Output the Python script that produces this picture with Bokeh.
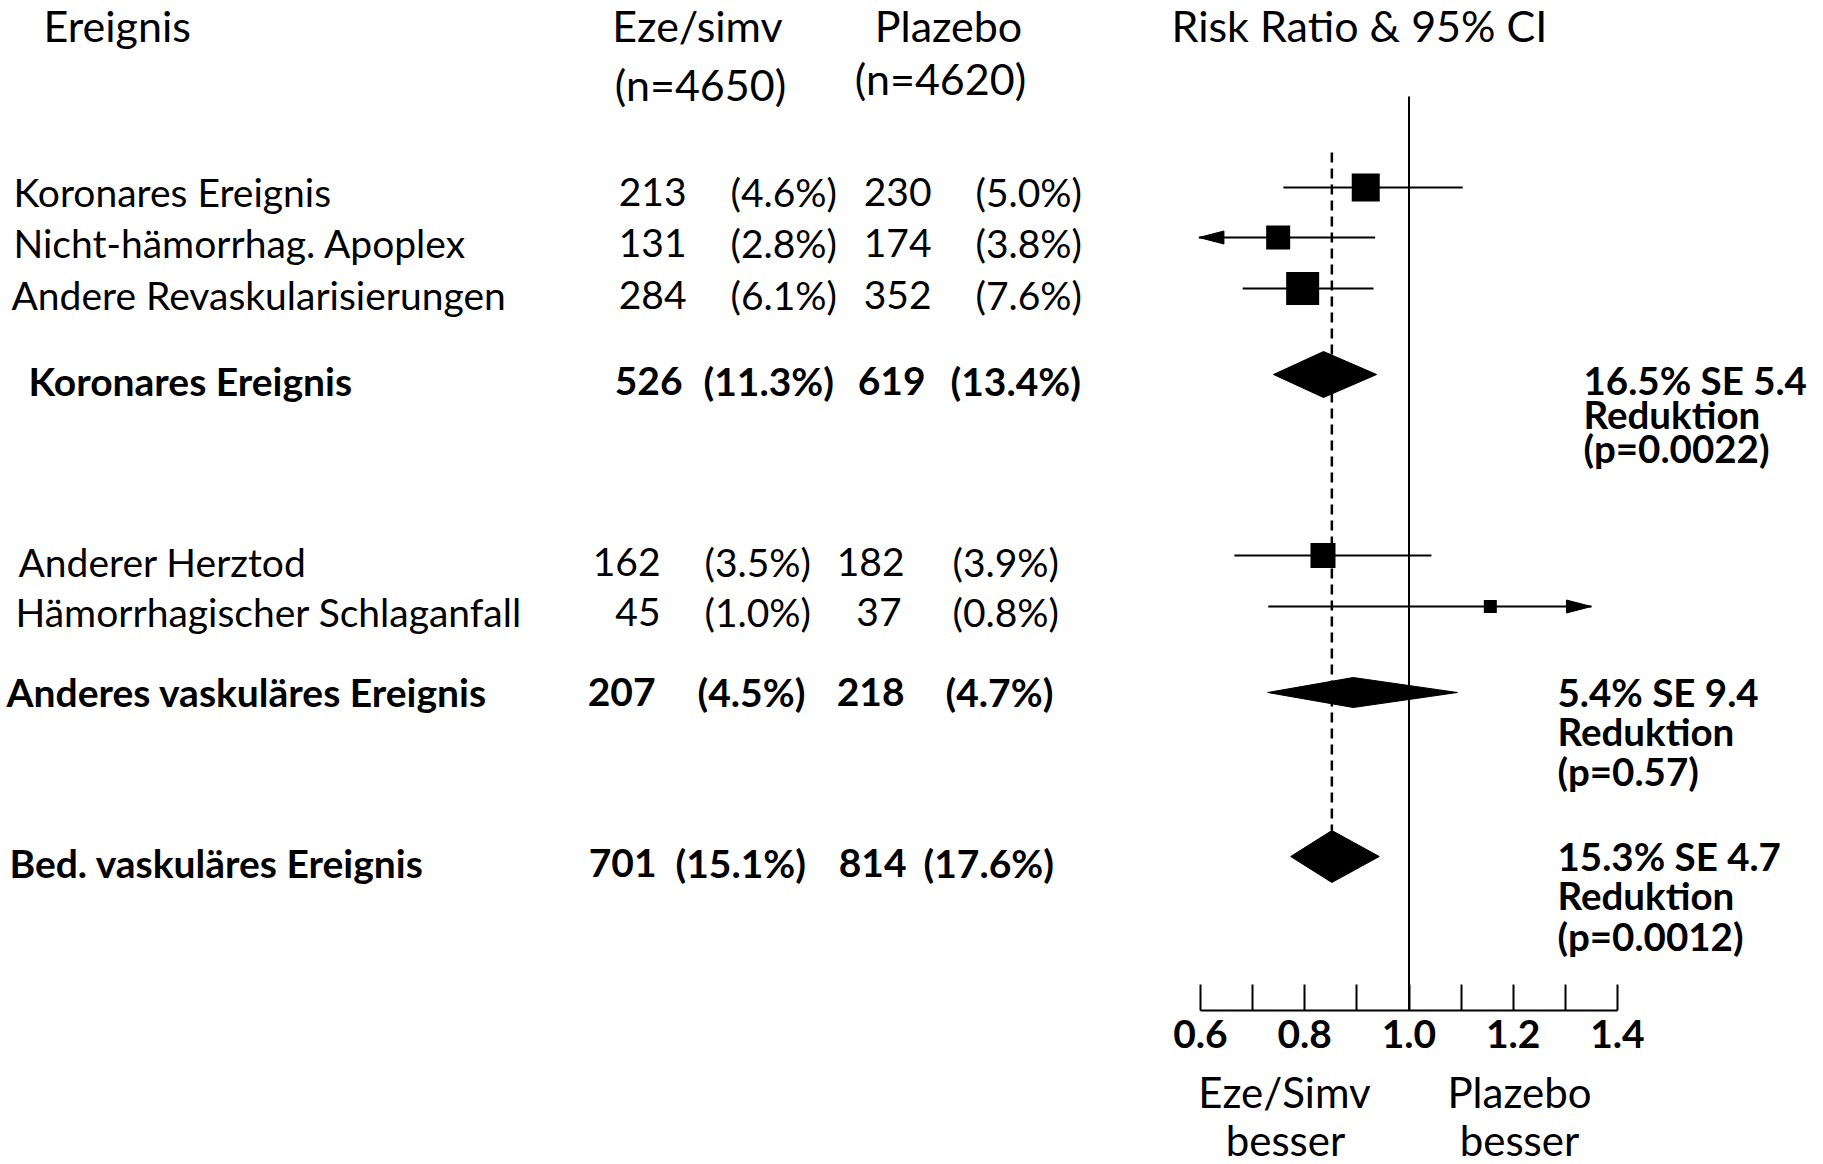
from bokeh.plotting import figure
from bokeh.layouts import column
from bokeh.models import Range1d, LinearAxis, FixedTicker, ColumnDataSource, PrintfTickFormatter
from bokeh.core.properties import value
from bokeh.embed import file_html
from bokeh.resources import INLINE

# ---------------- data ----------------
events = ["Koronares Ereignis", "Nicht-hämorrhag. Apoplex", "Andere Revaskularisierungen",
          "Koronares Ereignis", "Anderer Herztod", "Hämorrhagischer Schlaganfall",
          "Anderes vaskuläres Ereignis", "Bed. vaskuläres Ereignis"]
is_summary = [False, False, False, True, False, False, True, True]
eze_n = [213, 131, 284, 526, 162, 45, 207, 701]
eze_pct = ["4.6", "2.8", "6.1", "11.3", "3.5", "1.0", "4.5", "15.1"]
pla_n = [230, 174, 352, 619, 182, 37, 218, 814]
pla_pct = ["5.0", "3.8", "7.6", "13.4", "3.9", "0.8", "4.7", "17.6"]
rr = [0.917, 0.749, 0.796, 0.836, 0.835, 1.156, 0.893, 0.852]
ci_lo = [0.759, 0.597, 0.681, 0.740, 0.665, 0.730, 0.729, 0.773]
ci_hi = [1.103, 0.935, 0.932, 0.938, 1.043, 1.350, 1.093, 0.943]
arrow_side = ["", "left", "", "", "", "right", "", ""]
summary_reduction = ["16.5%", "5.4%", "15.3%"]
summary_se = ["5.4", "9.4", "4.7"]
summary_p = ["0.0022", "0.57", "0.0012"]
major_ticks = [0.6, 0.8, 1.0, 1.2, 1.4]
minor_ticks = [0.7, 0.9, 1.1, 1.3]
null_rr = 1.0
overall_rr = rr[7]

# ---------------- layout (picture pixels) ----------------
W, H = 1815, 1164
FRAME_BOTTOM = 1010
AXIS_BORDER = 56
row_mark_y = [187, 237, 288, 374, 555, 606, 692, 856]
row_text_y = [191, 242, 294, 380, 561, 611, 691, 862]
mark_size = [28, 24, 33, 46, 25, 13, 30, 52]   # square side / diamond height
lab_x = [13, 13, 11, 28, 18, 15, 6, 9]
eze_n_right = [686, 686, 686, 682, 660, 660, 655, 656]
eze_pct_left = [730, 730, 730, 703, 704, 704, 697, 675]
pla_n_right = [931, 931, 931, 925, 904, 901, 904, 906]
pla_pct_left = [975, 975, 975, 950, 952, 952, 945, 923]
stat_x = [1583, 1557, 1557]
stat_y = [[379, 413, 447], [691, 730, 770], [855, 894, 935]]
FONT = "Lato"

px_per_rr = (1617 - 1200) / 0.8
rr_start = 0.6 - 1200 / px_per_rr
rr_end = rr_start + W / px_per_rr

p = figure(width=W, height=FRAME_BOTTOM + AXIS_BORDER, x_range=Range1d(0, W),
           y_range=Range1d(FRAME_BOTTOM, 0),
           x_axis_type=None, y_axis_type=None, toolbar_location=None, output_backend="svg",
           min_border_left=0, min_border_right=0, min_border_top=0,
           min_border_bottom=AXIS_BORDER, outline_line_color=None,
           background_fill_color="white", border_fill_color="white")
p.extra_x_ranges = {"rr": Range1d(rr_start, rr_end)}

# ---- headers ----
hdr = ColumnDataSource(dict(x=[43, 697, 700, 948, 940, 1171], y=[25, 25, 84, 25, 78, 25],
                            t=["Ereignis", "Eze/simv", "(n=4650)", "Plazebo", "(n=4620)", "Risk Ratio & 95% CI"],
                            a=["left", "center", "center", "center", "center", "left"]))
p.text(x="x", y="y", text="t", text_align="a", source=hdr, text_baseline="middle",
       text_font=value(FONT), text_font_size=value("43px"), text_color="black")

# ---- table ----
styles = ["bold" if s else "normal" for s in is_summary]
tab = ColumnDataSource(dict(
    lx=lab_x, y=row_text_y, label=events, st=styles,
    enx=eze_n_right, en=[str(v) for v in eze_n],
    epx=eze_pct_left, ep=["(%s%%)" % v for v in eze_pct],
    pnx=pla_n_right, pn=[str(v) for v in pla_n],
    ppx=pla_pct_left, pp=["(%s%%)" % v for v in pla_pct]))
common = dict(source=tab, text_baseline="middle", text_font=value(FONT),
              text_font_size=value("39px"), text_color="black", text_font_style="st")
p.text(x="lx", y="y", text="label", text_align="left", **common)
p.text(x="enx", y="y", text="en", text_align="right", **common)
p.text(x="epx", y="y", text="ep", text_align="left", **common)
p.text(x="pnx", y="y", text="pn", text_align="right", **common)
p.text(x="ppx", y="y", text="pp", text_align="left", **common)

# ---- forest plot ----
p.segment(x0=[null_rr], y0=[96], x1=[null_rr], y1=[FRAME_BOTTOM], x_range_name="rr",
          line_color="black", line_width=2)
p.segment(x0=[overall_rr], y0=[152], x1=[overall_rr], y1=[row_mark_y[7] - mark_size[7] / 2],
          x_range_name="rr", line_color="black", line_width=2.5, line_dash="10 6")

sq = [i for i in range(len(events)) if not is_summary[i]]
ci = ColumnDataSource(dict(lo=[ci_lo[i] for i in sq], hi=[ci_hi[i] for i in sq],
                           y=[row_mark_y[i] for i in sq], rr=[rr[i] for i in sq],
                           s=[mark_size[i] for i in sq]))
p.segment(x0="lo", y0="y", x1="hi", y1="y", source=ci, x_range_name="rr",
          line_color="black", line_width=1.8)
p.scatter(x="rr", y="y", size="s", marker="square", source=ci, x_range_name="rr",
          fill_color="black", line_color=None)

head_len = 25 / px_per_rr
head_half = 6.5
axs, ays = [], []
for i, side in enumerate(arrow_side):
    if side == "left":
        tip = ci_lo[i]
        axs.append([tip, tip + head_len, tip + head_len])
    elif side == "right":
        tip = ci_hi[i]
        axs.append([tip, tip - head_len, tip - head_len])
    else:
        continue
    y = row_mark_y[i]
    ays.append([y, y - head_half, y + head_half])
p.patches(xs=axs, ys=ays, x_range_name="rr", fill_color="black", line_color="black", line_width=1)

dm = [i for i in range(len(events)) if is_summary[i]]
dxs = [[ci_lo[i], rr[i], ci_hi[i], rr[i]] for i in dm]
dys = [[row_mark_y[i], row_mark_y[i] - mark_size[i] / 2, row_mark_y[i], row_mark_y[i] + mark_size[i] / 2] for i in dm]
p.patches(xs=dxs, ys=dys, x_range_name="rr", fill_color="black", line_color="black", line_width=1)

# ---- summary statistics ----
sx, sy, st = [], [], []
for k in range(len(summary_reduction)):
    lines = ["%s SE %s" % (summary_reduction[k], summary_se[k]), "Reduktion", "(p=%s)" % summary_p[k]]
    for j, t in enumerate(lines):
        sx.append(stat_x[k]); sy.append(stat_y[k][j]); st.append(t)
p.text(x=sx, y=sy, text=st, text_align="left", text_baseline="middle", text_font=value(FONT),
       text_font_size=value("38.5px"), text_font_style="bold", text_color="black")

# ---- axis ----
ax = LinearAxis(x_range_name="rr", ticker=FixedTicker(ticks=major_ticks, minor_ticks=minor_ticks),
                formatter=PrintfTickFormatter(format="%.1f"), bounds=(0.6, 1.4))
ax.axis_line_color = "black"
ax.axis_line_width = 2
ax.major_tick_in = 26
ax.major_tick_out = 0
ax.minor_tick_in = 26
ax.minor_tick_out = 0
ax.major_tick_line_width = 2
ax.minor_tick_line_width = 2
ax.major_tick_line_color = "black"
ax.minor_tick_line_color = "black"
ax.major_label_text_font = FONT
ax.major_label_text_font_style = "bold"
ax.major_label_text_font_size = "39px"
ax.major_label_text_color = "black"
ax.major_label_standoff = 9
p.add_layout(ax, "below")

# ---- direction captions under the axis ----
TOP2 = FRAME_BOTTOM + AXIS_BORDER
p2 = figure(width=W, height=H - TOP2, x_range=p.x_range, y_range=Range1d(H, TOP2),
            x_axis_type=None, y_axis_type=None, toolbar_location=None, output_backend="svg",
            min_border_left=0, min_border_right=0, min_border_top=0, min_border_bottom=0,
            outline_line_color=None, background_fill_color="white", border_fill_color="white")
p2.text(x=[1284, 1285, 1519, 1519], y=[1091, 1139, 1091, 1139],
        text=["Eze/Simv", "besser", "Plazebo", "besser"], text_align="center",
        text_baseline="middle", text_font=value(FONT), text_font_size=value("42px"),
        text_color="black")

layout = column(p, p2, spacing=0)
open("out.html", "w").write(file_html(layout, INLINE))
